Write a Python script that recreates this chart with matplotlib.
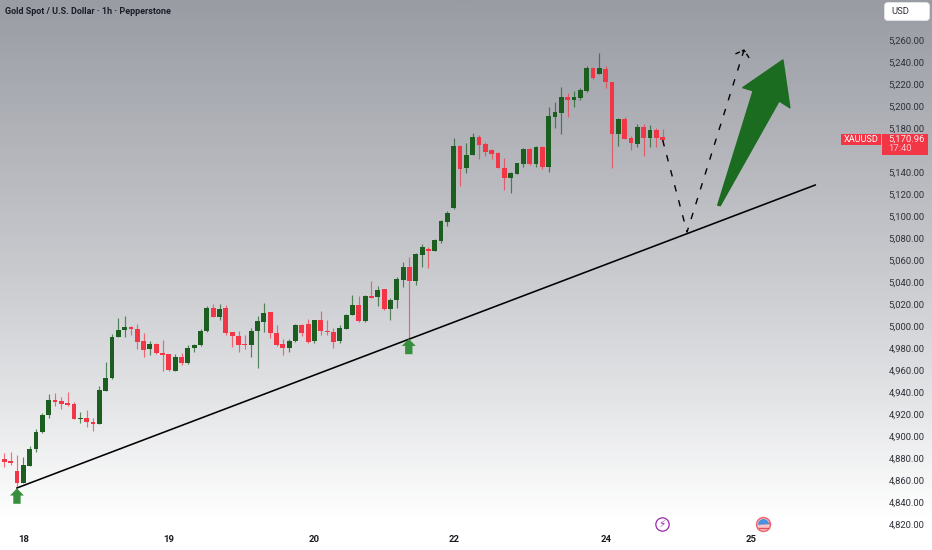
import numpy as np
import matplotlib
matplotlib.use('Agg')
import matplotlib.pyplot as plt
from matplotlib.colors import LinearSegmentedColormap
from matplotlib.patches import FancyBboxPatch, Polygon, Rectangle
from matplotlib.path import Path
from matplotlib.transforms import blended_transform_factory

plt.rcParams['font.family'] = ['Roboto', 'DejaVu Sans']

# Hourly candles (first candle is index -1)
highs = [4898.5, 4885.5, 4885.8, 4883.3, 4881.8, 4891.8, 4907, 4921.2, 4938.5, 4939.4, 4935.8, 4940.9, 4931.8, 4922.7,
         4924.2, 4916.7, 4946.4, 4968.2, 4993, 5008.2, 5009.7, 5000.6, 5002.4, 4994.5, 4987.3, 4985.4, 4987.9, 4975.1,
         4975.1, 4976.4, 4983, 4984.2, 4997.9, 5018.8, 5020.6, 5020.6, 5019.7, 4995.2, 4996.4, 4992.4, 4998.5, 5009.7,
         5021.2, 5013, 5001.5, 4988.5, 4988.5, 5002.1, 5002.4, 5007, 5006.1, 5014.3, 5006.1, 4998.5, 5001.5, 5011.5,
         5028.8, 5027.9, 5028.8, 5041.8, 5037, 5034, 5025.8, 5044.9, 5059.1, 5063, 5067.3, 5075.2, 5072.7, 5079.5, 5097,
         5105.5, 5171.3, 5165.2, 5167.3, 5175.8, 5174.3, 5168.2, 5161.3, 5158.5, 5153.1, 5141, 5149.2, 5162.2, 5162.2,
         5164.3, 5164.2, 5200, 5204.2, 5218.2, 5212.7, 5214.5, 5217.3, 5237, 5235.8, 5248.5, 5237, 5222.7, 5190, 5190.3,
         5173.6, 5184, 5184, 5183.3, 5180.3, 5179.7]
body_tops = [4881.8, 4880, 4878.2, 4868.8, 4874.2, 4888.8, 4904, 4919.7, 4933, 4933.6, 4932.7, 4930.6, 4929.7, 4917,
             4916.7, 4913.6, 4942.4, 4953.3, 4990.9, 4997, 4999.4, 4999.7, 4998.2, 4986.7, 4984.2, 4984.2, 4976, 4975.1,
             4972.4, 4972.4, 4980.9, 4983.6, 4996.4, 5017.3, 5017.3, 5016, 5016.7, 4994.9, 4991.8, 4984.3, 4996.4,
             5004.9, 5012.7, 5013, 4994, 4984.3, 4987, 5001.2, 5001.2, 5002.4, 5005.8, 5005.8, 4996.4, 4995.2, 4998.8,
             5010.9, 5019.7, 5019.7, 5028.2, 5028.2, 5033.4, 5034, 5024, 5043, 5054, 5054, 5065.8, 5072.1, 5070.9,
             5078.6, 5096.1, 5103.1, 5164.3, 5164.3, 5156.1, 5172.5, 5172.5, 5165.8, 5160.4, 5157.6, 5144.6, 5139.5,
             5148.5, 5161.9, 5161.9, 5163.4, 5163.6, 5191.5, 5195.2, 5208.8, 5208.8, 5208.8, 5214.8, 5235.1, 5235.1,
             5235.1, 5234.2, 5222.7, 5189.1, 5189.1, 5171.2, 5181.8, 5181.8, 5178.8, 5178.8, 5172.4]
body_bottoms = [4878.2, 4876.7, 4876.4, 4857.6, 4857.6, 4873.6, 4888.8, 4904, 4919.7, 4931.8, 4929.4, 4929.1, 4916.1,
                4915.8, 4913.3, 4911.8, 4911.8, 4941.8, 4953.3, 4990.3, 4996.7, 4998.2, 4986, 4979.1, 4979.4, 4975.8,
                4974.2, 4960.3, 4959.7, 4967, 4967, 4980.6, 4983, 4995.7, 5008.8, 5008.8, 4993.9, 4991.8, 4983, 4983.7,
                4983.7, 4995.8, 5004.3, 4994.3, 4983.4, 4980.3, 4980.6, 4986.7, 4994.6, 4986.4, 4986.7, 4996.1, 4995.2,
                4986.1, 4986.7, 4998.2, 5010.6, 5005.2, 5005.2, 5025.8, 5026.7, 5016.1, 5016.1, 5024.3, 5042.7, 5041.5,
                5041.5, 5065.5, 5069.1, 5069.2, 5077.6, 5095.2, 5107.6, 5143.4, 5144, 5156.1, 5165.5, 5159.2, 5157.3,
                5144.6, 5135.5, 5135.5, 5139.2, 5147.9, 5148.2, 5147.9, 5145.2, 5145.2, 5190.9, 5194.5, 5206.4, 5206.4,
                5207.9, 5214.2, 5226.4, 5229.7, 5222.7, 5175.5, 5175.5, 5170.6, 5167, 5166.4, 5171.8, 5171.8, 5171.8,
                5169.7]
lows = [4872.7, 4872.7, 4874.2, 4853, 4857.6, 4873.6, 4886.4, 4903.6, 4917.3, 4927.9, 4924.8, 4928.2, 4916.1, 4912.7,
        4909.1, 4905.5, 4911.5, 4941.8, 4952.1, 4990.3, 4990.9, 4992.4, 4979.7, 4972.1, 4974.5, 4975.1, 4960, 4960,
        4959.4, 4965.1, 4966.4, 4976.7, 4982.7, 4995.4, 5008.5, 5006, 4992.4, 4981.2, 4977.3, 4979.4, 4972.8, 4962.1,
        4995.5, 4990, 4982.4, 4974.3, 4977.3, 4986.4, 4991.8, 4984.9, 4984.9, 4992.4, 4992.4, 4980.9, 4985.5, 4997.6,
        5010.3, 5004.6, 5004.6, 5025.8, 5019.1, 5015.2, 5006.1, 5017.3, 5036.4, 4987.9, 5037.9, 5054, 5053, 5069.2,
        5076.4, 5091.6, 5107, 5128.2, 5140.1, 5156.1, 5152.2, 5155.2, 5152.2, 5144, 5124.3, 5121.9, 5138.5, 5144.9, 5147,
        5145.5, 5143, 5140.9, 5180.3, 5175.2, 5190.3, 5200, 5206.1, 5213.6, 5225.1, 5229.4, 5217.3, 5144.6, 5164.5,
        5170.6, 5160.6, 5163.6, 5155.5, 5163.6, 5163.6, 5165.2]
directions = ('rrrrggggg' 'rrrr' 'g' 'rr' 'ggggg' 'rrr' 'g' 'rrr' 'g' 'r' 'gggg' 'r' 'g' 'rrrr' 'ggg' 'rrr' 'gg' 'rr'
              'g' 'rrr' 'ggg' 'r' 'g' 'r' 'g' 'r' 'ggg' 'r' 'gg' 'r' 'gggg' 'r' 'gg' 'rrrrr' 'ggg' 'r' 'g' 'r' 'ggg'
              'r' 'ggg' 'r' 'g' 'rr' 'g' 'rr' 'g' 'r' 'g' 'rr')

# 5,160.00 is left out, the reference has it hidden behind the price tag
price_ticks = [p for p in range(4820, 5261, 20) if p != 5160]
date_labels = ['18', '19', '20', '22', '24', '25']
date_index = [3, 26, 49, 71, 95, 118]

# Drawings on the chart, in (candle index, price)
trend_x = [2.0, 128.1]
trend_y = [4853.4, 5128.8]
path_x = [104, 107.85, 116.85]
path_y = [5169.7, 5086, 5251.5]
barb_x = [115.5, 116.85, 117.7]
barb_y = [5248, 5251.5, 5244]
big_arrow_x = [112.7, 118.3, 116.65, 123, 124.1, 122.4, 113.1]
big_arrow_y = [5110.5, 5214.5, 5217.3, 5242.5, 5199, 5205.2, 5110]
up_arrow_x = [2, 63.9]
up_arrow_y = [4853, 4989]

GREEN = '#1b5e20'
RED = '#f23645'

fig = plt.figure(figsize=(9.32, 5.5), dpi=100)
ax = fig.add_axes([0, 0, 1, 1])
xlim = (-0.68, 146.55)
ylim = (4797, 5297)

# background gradient, grey at the top and white near the bottom
cmap = LinearSegmentedColormap.from_list('bg', [(0, '#9a9ca4'), (0.52, '#c8cace'), (0.775, '#e4e5e7'), (1, '#ffffff')])
grad = np.concatenate([np.linspace(0, 1, 520), np.ones(30)]).reshape(-1, 1)
ax.imshow(grad, cmap=cmap, aspect='auto', extent=(*xlim, ylim[0], ylim[1]), origin='upper', zorder=0)

x = np.arange(len(highs)) - 1
colors = [GREEN if d == 'g' else RED for d in directions]
ax.vlines(x, lows, highs, colors=colors, linewidth=0.85, alpha=0.7, zorder=2)
ax.bar(x, np.array(body_tops) - np.array(body_bottoms), bottom=body_bottoms, width=0.76, color=colors, linewidth=0, zorder=3)

ax.plot(trend_x, trend_y, color='black', linewidth=1.15, zorder=4)
ax.plot(path_x, path_y, color='black', linewidth=1.0, dashes=(4.7, 6.5), zorder=4)
ax.plot(barb_x, barb_y, color='black', linewidth=1.0, dashes=(3.5, 1.5), zorder=4)
ax.add_patch(Polygon(np.column_stack([big_arrow_x, big_arrow_y]), closed=True, facecolor='#1b6b20',
                     edgecolor='#1b6b20', linewidth=1, joinstyle='round', zorder=4))

# small green arrows under the two touches of the trend line
for ax_x, ax_y in zip(up_arrow_x, up_arrow_y):
    shape = [(0, 0), (1.1, -6.5), (0.58, -6.5), (0.58, -14), (-0.58, -14), (-0.58, -6.5), (-1.1, -6.5)]
    ax.add_patch(Polygon([(ax_x + dx, ax_y + dy) for dx, dy in shape], closed=True, facecolor='#388e3c',
                         edgecolor='none', zorder=5))

# price scale
trans = blended_transform_factory(ax.transAxes, ax.transData)
for p in price_ticks:
    ax.text(924.5 / 932, p, f'{p:,.2f}', transform=trans, ha='right', va='center', fontsize=6.8, color='#2e3138', zorder=6)

for lab, idx in zip(date_labels, date_index):
    ax.text(idx, 4806.5, lab, ha='center', va='center', fontsize=6.8, fontweight='bold', color='#1a1c22', zorder=6)

# last price tags
ax.add_patch(Rectangle((840.7 / 932, 5164.8), 40.3 / 932, 10.4, transform=trans, facecolor=RED, edgecolor='none', zorder=7))
ax.add_patch(Rectangle((882.3 / 932, 5156), 46 / 932, 19.2, transform=trans, facecolor=RED, edgecolor='none', zorder=7))
ax.text(861 / 932, 5169.8, 'XAUUSD', transform=trans, ha='center', va='center', fontsize=6.6, color='white', zorder=8)
ax.text(888 / 932, 5170.2, '5,170.96', transform=trans, ha='left', va='center', fontsize=6.8, color='#ffe8ea', zorder=8)
ax.text(888 / 932, 5161.6, '17:40', transform=trans, ha='left', va='center', fontsize=6.8, color='#ffc4c9', zorder=8)

# USD button
ax.add_patch(FancyBboxPatch((884.5 / 932, 1 - 20.5 / 550), 45 / 932, 18 / 550, transform=ax.transAxes,
                            boxstyle='round,pad=0,rounding_size=0.004', mutation_aspect=1.7, facecolor='white',
                            edgecolor='#e4e5e8', linewidth=0.6, zorder=7))
ax.text(891 / 932, 1 - 11.2 / 550, 'USD', transform=ax.transAxes, ha='left', va='center', fontsize=6.8, color='#2e3138', zorder=8)

ax.text(5 / 932, 1 - 11 / 550, 'Gold Spot / U.S. Dollar · 1h · Pepperstone', transform=ax.transAxes, ha='left', va='center',
        fontsize=6.45, fontweight='bold', color='#1b1d28', zorder=6)

# event icons on the time axis
icon_y = 4820.4
lightning_x = (662 - 4.3) / 6.33
flag_x = (763.3 - 4.3) / 6.33
ax.plot([lightning_x], [icon_y], marker='o', ms=9.6, mfc='#ffffff', mec='#9c27b0', mew=0.9, zorder=6)
ax.text(lightning_x, icon_y, '\u26a1', family='DejaVu Sans', ha='center', va='center', fontsize=7.5, color='#9c27b0', zorder=7)
ax.plot([flag_x], [icon_y], marker='o', ms=10, mfc='#f7c4c7', mec='#ee6a72', mew=1.1, zorder=6)
ax.plot([flag_x + 0.15, flag_x + 0.95], [icon_y + 1.2, icon_y + 1.2], color='#e8505b', linewidth=1.0, zorder=7)
ax.plot([flag_x - 0.75, flag_x + 0.75], [icon_y - 3.2, icon_y - 3.2], color='#e8505b', linewidth=1.0, zorder=7)
ax.plot([flag_x], [icon_y], marker=Path.wedge(5, 185), ms=8, mfc='#4a90e2', mec='none', zorder=7)

ax.set_xlim(xlim)
ax.set_ylim(ylim)
ax.axis('off')

fig.savefig('out.png', dpi=100)
